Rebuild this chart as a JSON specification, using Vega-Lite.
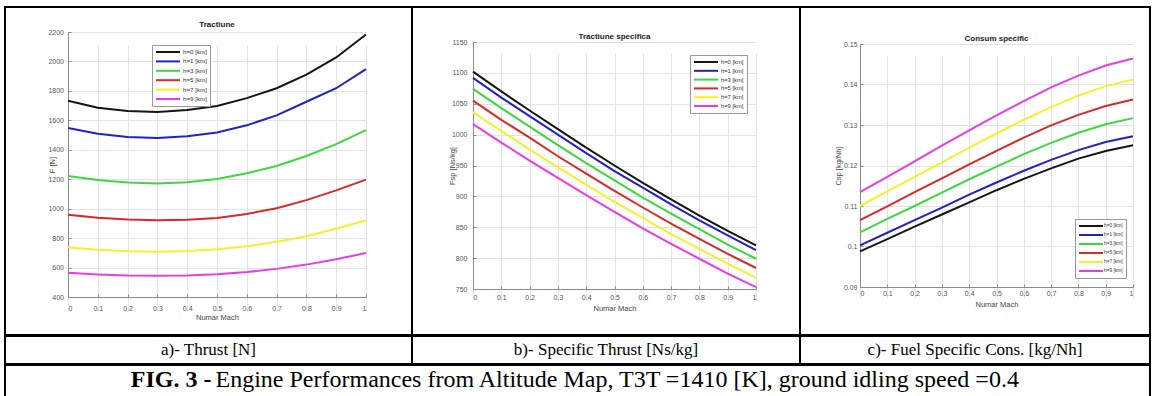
{
"$schema": "https://vega.github.io/schema/vega-lite/v6.json",
"padding": {"left": 4, "top": 6, "right": 0, "bottom": 0},
"background": "white",
"datasets": {
"thrust": [
{"M":0,"h":"h=0 [km]","v":1733},{"M":0.1,"h":"h=0 [km]","v":1686},{"M":0.2,"h":"h=0 [km]","v":1663},{"M":0.3,"h":"h=0 [km]","v":1657},{"M":0.4,"h":"h=0 [km]","v":1670},{"M":0.5,"h":"h=0 [km]","v":1698},{"M":0.6,"h":"h=0 [km]","v":1751},{"M":0.7,"h":"h=0 [km]","v":1818},{"M":0.8,"h":"h=0 [km]","v":1911},{"M":0.9,"h":"h=0 [km]","v":2027},{"M":1,"h":"h=0 [km]","v":2183},
{"M":0,"h":"h=1 [km]","v":1548},{"M":0.1,"h":"h=1 [km]","v":1509},{"M":0.2,"h":"h=1 [km]","v":1487},{"M":0.3,"h":"h=1 [km]","v":1480},{"M":0.4,"h":"h=1 [km]","v":1492},{"M":0.5,"h":"h=1 [km]","v":1517},{"M":0.6,"h":"h=1 [km]","v":1566},{"M":0.7,"h":"h=1 [km]","v":1634},{"M":0.8,"h":"h=1 [km]","v":1726},{"M":0.9,"h":"h=1 [km]","v":1818},{"M":1,"h":"h=1 [km]","v":1948},
{"M":0,"h":"h=3 [km]","v":1222},{"M":0.1,"h":"h=3 [km]","v":1195},{"M":0.2,"h":"h=3 [km]","v":1178},{"M":0.3,"h":"h=3 [km]","v":1171},{"M":0.4,"h":"h=3 [km]","v":1180},{"M":0.5,"h":"h=3 [km]","v":1202},{"M":0.6,"h":"h=3 [km]","v":1240},{"M":0.7,"h":"h=3 [km]","v":1290},{"M":0.8,"h":"h=3 [km]","v":1358},{"M":0.9,"h":"h=3 [km]","v":1438},{"M":1,"h":"h=3 [km]","v":1533},
{"M":0,"h":"h=5 [km]","v":958},{"M":0.1,"h":"h=5 [km]","v":939},{"M":0.2,"h":"h=5 [km]","v":926},{"M":0.3,"h":"h=5 [km]","v":921},{"M":0.4,"h":"h=5 [km]","v":924},{"M":0.5,"h":"h=5 [km]","v":937},{"M":0.6,"h":"h=5 [km]","v":964},{"M":0.7,"h":"h=5 [km]","v":1003},{"M":0.8,"h":"h=5 [km]","v":1058},{"M":0.9,"h":"h=5 [km]","v":1124},{"M":1,"h":"h=5 [km]","v":1197},
{"M":0,"h":"h=7 [km]","v":737},{"M":0.1,"h":"h=7 [km]","v":721},{"M":0.2,"h":"h=7 [km]","v":710},{"M":0.3,"h":"h=7 [km]","v":708},{"M":0.4,"h":"h=7 [km]","v":712},{"M":0.5,"h":"h=7 [km]","v":724},{"M":0.6,"h":"h=7 [km]","v":744},{"M":0.7,"h":"h=7 [km]","v":775},{"M":0.8,"h":"h=7 [km]","v":813},{"M":0.9,"h":"h=7 [km]","v":863},{"M":1,"h":"h=7 [km]","v":921},
{"M":0,"h":"h=9 [km]","v":564},{"M":0.1,"h":"h=9 [km]","v":553},{"M":0.2,"h":"h=9 [km]","v":546},{"M":0.3,"h":"h=9 [km]","v":544},{"M":0.4,"h":"h=9 [km]","v":546},{"M":0.5,"h":"h=9 [km]","v":555},{"M":0.6,"h":"h=9 [km]","v":569},{"M":0.7,"h":"h=9 [km]","v":591},{"M":0.8,"h":"h=9 [km]","v":620},{"M":0.9,"h":"h=9 [km]","v":656},{"M":1,"h":"h=9 [km]","v":699}
],
"fsp": [
{"M":0,"h":"h=0 [km]","v":1102},{"M":0.1,"h":"h=0 [km]","v":1070},{"M":0.2,"h":"h=0 [km]","v":1039},{"M":0.3,"h":"h=0 [km]","v":1009},{"M":0.4,"h":"h=0 [km]","v":979},{"M":0.5,"h":"h=0 [km]","v":950},{"M":0.6,"h":"h=0 [km]","v":922},{"M":0.7,"h":"h=0 [km]","v":895},{"M":0.8,"h":"h=0 [km]","v":869},{"M":0.9,"h":"h=0 [km]","v":844},{"M":1,"h":"h=0 [km]","v":820.5},
{"M":0,"h":"h=1 [km]","v":1092},{"M":0.1,"h":"h=1 [km]","v":1060},{"M":0.2,"h":"h=1 [km]","v":1030},{"M":0.3,"h":"h=1 [km]","v":1000},{"M":0.4,"h":"h=1 [km]","v":970},{"M":0.5,"h":"h=1 [km]","v":941},{"M":0.6,"h":"h=1 [km]","v":914},{"M":0.7,"h":"h=1 [km]","v":887},{"M":0.8,"h":"h=1 [km]","v":861},{"M":0.9,"h":"h=1 [km]","v":837},{"M":1,"h":"h=1 [km]","v":813},
{"M":0,"h":"h=3 [km]","v":1074},{"M":0.1,"h":"h=3 [km]","v":1043},{"M":0.2,"h":"h=3 [km]","v":1013},{"M":0.3,"h":"h=3 [km]","v":983},{"M":0.4,"h":"h=3 [km]","v":954},{"M":0.5,"h":"h=3 [km]","v":926},{"M":0.6,"h":"h=3 [km]","v":898},{"M":0.7,"h":"h=3 [km]","v":872},{"M":0.8,"h":"h=3 [km]","v":847},{"M":0.9,"h":"h=3 [km]","v":822},{"M":1,"h":"h=3 [km]","v":799},
{"M":0,"h":"h=5 [km]","v":1055},{"M":0.1,"h":"h=5 [km]","v":1024},{"M":0.2,"h":"h=5 [km]","v":995},{"M":0.3,"h":"h=5 [km]","v":965},{"M":0.4,"h":"h=5 [km]","v":937},{"M":0.5,"h":"h=5 [km]","v":909},{"M":0.6,"h":"h=5 [km]","v":882},{"M":0.7,"h":"h=5 [km]","v":856},{"M":0.8,"h":"h=5 [km]","v":831},{"M":0.9,"h":"h=5 [km]","v":807},{"M":1,"h":"h=5 [km]","v":784},
{"M":0,"h":"h=7 [km]","v":1036},{"M":0.1,"h":"h=7 [km]","v":1006},{"M":0.2,"h":"h=7 [km]","v":976},{"M":0.3,"h":"h=7 [km]","v":947},{"M":0.4,"h":"h=7 [km]","v":919},{"M":0.5,"h":"h=7 [km]","v":891},{"M":0.6,"h":"h=7 [km]","v":865},{"M":0.7,"h":"h=7 [km]","v":839},{"M":0.8,"h":"h=7 [km]","v":815},{"M":0.9,"h":"h=7 [km]","v":791},{"M":1,"h":"h=7 [km]","v":768},
{"M":0,"h":"h=9 [km]","v":1017},{"M":0.1,"h":"h=9 [km]","v":987},{"M":0.2,"h":"h=9 [km]","v":958},{"M":0.3,"h":"h=9 [km]","v":930},{"M":0.4,"h":"h=9 [km]","v":902},{"M":0.5,"h":"h=9 [km]","v":875},{"M":0.6,"h":"h=9 [km]","v":848},{"M":0.7,"h":"h=9 [km]","v":823},{"M":0.8,"h":"h=9 [km]","v":799},{"M":0.9,"h":"h=9 [km]","v":775},{"M":1,"h":"h=9 [km]","v":753}
],
"csp": [
{"M":0,"h":"h=0 [km]","v":0.0988},{"M":0.1,"h":"h=0 [km]","v":0.1018},{"M":0.2,"h":"h=0 [km]","v":0.1049},{"M":0.3,"h":"h=0 [km]","v":0.1079},{"M":0.4,"h":"h=0 [km]","v":0.1109},{"M":0.5,"h":"h=0 [km]","v":0.1139},{"M":0.6,"h":"h=0 [km]","v":0.1167},{"M":0.7,"h":"h=0 [km]","v":0.1193},{"M":0.8,"h":"h=0 [km]","v":0.1217},{"M":0.9,"h":"h=0 [km]","v":0.1236},{"M":1,"h":"h=0 [km]","v":0.1250},
{"M":0,"h":"h=1 [km]","v":0.1003},{"M":0.1,"h":"h=1 [km]","v":0.1034},{"M":0.2,"h":"h=1 [km]","v":0.1065},{"M":0.3,"h":"h=1 [km]","v":0.1096},{"M":0.4,"h":"h=1 [km]","v":0.1128},{"M":0.5,"h":"h=1 [km]","v":0.1158},{"M":0.6,"h":"h=1 [km]","v":0.1187},{"M":0.7,"h":"h=1 [km]","v":0.1214},{"M":0.8,"h":"h=1 [km]","v":0.1238},{"M":0.9,"h":"h=1 [km]","v":0.1258},{"M":1,"h":"h=1 [km]","v":0.1272},
{"M":0,"h":"h=3 [km]","v":0.1035},{"M":0.1,"h":"h=3 [km]","v":0.1068},{"M":0.2,"h":"h=3 [km]","v":0.1100},{"M":0.3,"h":"h=3 [km]","v":0.1133},{"M":0.4,"h":"h=3 [km]","v":0.1166},{"M":0.5,"h":"h=3 [km]","v":0.1197},{"M":0.6,"h":"h=3 [km]","v":0.1228},{"M":0.7,"h":"h=3 [km]","v":0.1256},{"M":0.8,"h":"h=3 [km]","v":0.1281},{"M":0.9,"h":"h=3 [km]","v":0.1302},{"M":1,"h":"h=3 [km]","v":0.1317},
{"M":0,"h":"h=5 [km]","v":0.1065},{"M":0.1,"h":"h=5 [km]","v":0.1099},{"M":0.2,"h":"h=5 [km]","v":0.1134},{"M":0.3,"h":"h=5 [km]","v":0.1168},{"M":0.4,"h":"h=5 [km]","v":0.1203},{"M":0.5,"h":"h=5 [km]","v":0.1236},{"M":0.6,"h":"h=5 [km]","v":0.1269},{"M":0.7,"h":"h=5 [km]","v":0.1299},{"M":0.8,"h":"h=5 [km]","v":0.1325},{"M":0.9,"h":"h=5 [km]","v":0.1347},{"M":1,"h":"h=5 [km]","v":0.1363},
{"M":0,"h":"h=7 [km]","v":0.1100},{"M":0.1,"h":"h=7 [km]","v":0.1136},{"M":0.2,"h":"h=7 [km]","v":0.1172},{"M":0.3,"h":"h=7 [km]","v":0.1208},{"M":0.4,"h":"h=7 [km]","v":0.1244},{"M":0.5,"h":"h=7 [km]","v":0.1279},{"M":0.6,"h":"h=7 [km]","v":0.1313},{"M":0.7,"h":"h=7 [km]","v":0.1344},{"M":0.8,"h":"h=7 [km]","v":0.1373},{"M":0.9,"h":"h=7 [km]","v":0.1396},{"M":1,"h":"h=7 [km]","v":0.1412},
{"M":0,"h":"h=9 [km]","v":0.1134},{"M":0.1,"h":"h=9 [km]","v":0.1172},{"M":0.2,"h":"h=9 [km]","v":0.1210},{"M":0.3,"h":"h=9 [km]","v":0.1249},{"M":0.4,"h":"h=9 [km]","v":0.1287},{"M":0.5,"h":"h=9 [km]","v":0.1324},{"M":0.6,"h":"h=9 [km]","v":0.1359},{"M":0.7,"h":"h=9 [km]","v":0.1393},{"M":0.8,"h":"h=9 [km]","v":0.1422},{"M":0.9,"h":"h=9 [km]","v":0.1447},{"M":1,"h":"h=9 [km]","v":0.1464}
],
"caps": [{"t":"a)- Thrust [N]","c":"a"},{"t":"b)- Specific Thrust [Ns/kg]","c":"b"},{"t":"c)- Fuel Specific Cons. [kg/Nh]","c":"c"}],
"fig": [{"a":"FIG. 3 -","b":"Engine Performances from Altitude Map, T3T =1410 [K], ground idling speed =0.4"}]
},
"config": {
"view": {"stroke": "black", "strokeWidth": 2},
"font": "Liberation Sans",
"axis": {"domainColor": "#8c8c8c", "tickColor": "#8c8c8c", "gridColor": "#e3e3e3", "gridWidth": 1, "labelColor": "#555555", "labelFontSize": 7, "titleFontSize": 7.5, "titleFontWeight": "normal", "titleColor": "#444444", "tickSize": -3, "labelPadding": 4, "titleBaseline": "middle", "titleAngle": 0},
"axisY": {"titleAngle": -90},
"legend": {"orient": "none", "symbolType": "M-1,0H7", "symbolStrokeWidth": 2, "symbolSize": 36, "labelFontSize": 6, "labelColor": "#333333", "fillColor": "white", "strokeColor": "#999999", "padding": 3, "rowPadding": 1.4, "labelOffset": 20, "title": null},
"title": {"fontSize": 8, "fontWeight": "bold", "color": "#222222", "frame": "group", "anchor": "middle"}
},
"spacing": -2,
"resolve": {"scale": {"color": "independent"}, "legend": {"color": "independent"}},
"vconcat": [
{
"spacing": 0,
"bounds": "flush",
"resolve": {"scale": {"color": "independent"}, "legend": {"color": "independent"}},
"hconcat": [
{
"width": 407, "height": 328,
"data": {"name": "thrust"},
"title": {"text": "Tractiune", "dx": 8.5, "offset": -22},
"mark": {"type": "line", "strokeWidth": 2},
"encoding": {
"x": {"field": "M", "type": "quantitative", "title": "Numar Mach",
"scale": {"domain": [0, 1], "range": [63, 361], "nice": false, "zero": false},
"axis": {"values": [0,0.1,0.2,0.3,0.4,0.5,0.6,0.7,0.8,0.9,1], "format": "~g", "offset": -38, "labelPadding": 10.5, "titleX": 212, "titleY": 20}},
"y": {"field": "v", "type": "quantitative", "title": "F [N]",
"scale": {"domain": [400, 2200], "range": [290, 25], "nice": false, "zero": false},
"axis": {"values": [400,600,800,1000,1200,1400,1600,1800,2000,2200], "format": "d", "offset": -63, "labelPadding": 7.5, "titleX": -16, "titleY": 157.5}},
"color": {"field": "h", "type": "nominal",
"scale": {"domain": ["h=0 [km]","h=1 [km]","h=3 [km]","h=5 [km]","h=7 [km]","h=9 [km]"], "range": ["#151515","#2020cc","#3ed83e","#d92828","#f2f22a","#e83ce8"]},
"legend": {"legendX": 147, "legendY": 38, "labelFontSize": 6.2, "rowPadding": 1.4}}
}
},
{
"width": 388, "height": 328,
"data": {"name": "fsp"},
"title": {"text": "Tractiune specifica", "dx": 8.5, "offset": -34},
"mark": {"type": "line", "strokeWidth": 2},
"encoding": {
"x": {"field": "M", "type": "quantitative", "title": "Numar Mach",
"scale": {"domain": [0, 1], "range": [61, 344], "nice": false, "zero": false},
"axis": {"values": [0,0.1,0.2,0.3,0.4,0.5,0.6,0.7,0.8,0.9,1], "format": "~g", "offset": -46, "labelPadding": 7.5, "titleX": 202.5, "titleY": 19}},
"y": {"field": "v", "type": "quantitative", "title": "Fsp [Ns/kg]",
"scale": {"domain": [750, 1150], "range": [282, 35], "nice": false, "zero": false},
"axis": {"values": [750,800,850,900,950,1000,1050,1100,1150], "format": "d", "offset": -61, "labelPadding": 9, "titleX": -21, "titleY": 158.5}},
"color": {"field": "h", "type": "nominal",
"scale": {"domain": ["h=0 [km]","h=1 [km]","h=3 [km]","h=5 [km]","h=7 [km]","h=9 [km]"], "range": ["#151515","#2020cc","#3ed83e","#d92828","#f2f22a","#e83ce8"]},
"legend": {"legendX": 278, "legendY": 48, "labelFontSize": 5.8, "rowPadding": 0.8}}
}
},
{
"width": 350, "height": 328,
"data": {"name": "csp"},
"title": {"text": "Consum specific", "dx": 21.5, "offset": -36},
"mark": {"type": "line", "strokeWidth": 2},
"encoding": {
"x": {"field": "M", "type": "quantitative", "title": "Numar Mach",
"scale": {"domain": [0, 1], "range": [60, 333], "nice": false, "zero": false},
"axis": {"values": [0,0.1,0.2,0.3,0.4,0.5,0.6,0.7,0.8,0.9,1], "format": "~g", "offset": -48, "labelPadding": 5.5, "titleX": 196.5, "titleY": 17}},
"y": {"field": "v", "type": "quantitative", "title": "Csp [kg/Nh]",
"scale": {"domain": [0.09, 0.15], "range": [280, 37], "nice": false, "zero": false},
"axis": {"values": [0.09,0.1,0.11,0.12,0.13,0.14,0.15], "format": "~g", "offset": -60, "labelPadding": 6, "titleX": -22, "titleY": 158.5}},
"color": {"field": "h", "type": "nominal",
"scale": {"domain": ["h=0 [km]","h=1 [km]","h=3 [km]","h=5 [km]","h=7 [km]","h=9 [km]"], "range": ["#151515","#2020cc","#3ed83e","#d92828","#f2f22a","#e83ce8"]},
"legend": {"legendX": 275, "legendY": 212, "labelFontSize": 4.8, "rowPadding": 1, "labelOffset": 18}}
}
}
]
},
{
"spacing": 0,
"bounds": "flush",
"hconcat": [
{"width": 407, "height": 28, "view": {"stroke": "black", "strokeWidth": 2}, "data": {"name": "caps"}, "transform": [{"filter": "datum.c == 'a'"}],
"mark": {"type": "text", "font": "Liberation Serif", "fontSize": 17, "color": "black"}, "encoding": {"text": {"field": "t"}}},
{"width": 388, "height": 28, "view": {"stroke": "black", "strokeWidth": 2}, "data": {"name": "caps"}, "transform": [{"filter": "datum.c == 'b'"}],
"mark": {"type": "text", "font": "Liberation Serif", "fontSize": 17, "color": "black"}, "encoding": {"text": {"field": "t"}}},
{"width": 350, "height": 28, "view": {"stroke": "black", "strokeWidth": 2}, "data": {"name": "caps"}, "transform": [{"filter": "datum.c == 'c'"}],
"mark": {"type": "text", "font": "Liberation Serif", "fontSize": 17, "color": "black"}, "encoding": {"text": {"field": "t"}}}
]
},
{
"width": 1145, "height": 40,
"view": {"stroke": "black", "strokeWidth": 2},
"data": {"name": "fig"},
"layer": [
{"mark": {"type": "text", "font": "Liberation Serif", "fontSize": 24, "fontWeight": "bold", "color": "black", "align": "right", "dx": -366, "dy": -5}, "encoding": {"text": {"field": "a"}}},
{"mark": {"type": "text", "font": "Liberation Serif", "fontSize": 24, "color": "black", "align": "left", "dx": -362, "dy": -5}, "encoding": {"text": {"field": "b"}}}
]
}
]
}
